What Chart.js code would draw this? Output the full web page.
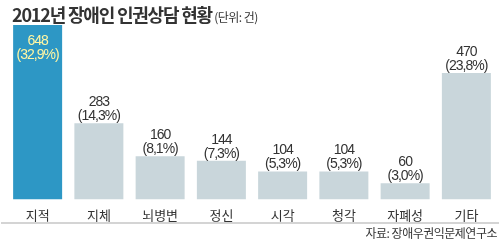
<!DOCTYPE html>
<html>
<head>
<meta charset="utf-8">
<script src="https://cdn.jsdelivr.net/npm/chart.js@4"></script>
<style>
  html, body { margin: 0; padding: 0; background: #fff; }
  #wrap { position: relative; width: 500px; height: 240px; overflow: hidden; }
  #title {
    position: absolute; left: 12px; top: 1px; white-space: nowrap;
    font-family: "Noto Sans CJK KR", sans-serif; color: #333;
  }
  #title b { font-size: 18px; letter-spacing: -1.2px; }
  #title span { font-size: 12px; letter-spacing: -0.5px; }
  #source {
    position: absolute; right: 3px; top: 224px; white-space: nowrap;
    font-family: "Noto Sans CJK KR", sans-serif; font-size: 12px; color: #333; letter-spacing: -0.5px;
  }
  #rule { position: absolute; left: 1px; right: 1px; top: 222px; height: 2px; background: #d4d4d4; }
</style>
</head>
<body>
<div id="wrap">
  <canvas id="chart" width="500" height="240"></canvas>
  <div id="title"><b>2012년 장애인 인권상담 현황</b><span> (단위: 건)</span></div>
  <div id="rule"></div>
  <div id="source">자료: 장애우권익문제연구소</div>
</div>
<script>
'use strict';

const categories = ['지적', '지체', '뇌병변', '정신', '시각', '청각', '자폐성', '기타'];
const counts = [648, 283, 160, 144, 104, 104, 60, 470];
const shares = ['32,9%', '14,3%', '8,1%', '7,3%', '5,3%', '5,3%', '3,0%', '23,8%'];

const BLUE = '#2d97c5';
const GREY = '#c9d6db';

// value labels: inside the first (highlighted) bar, above the rest
const valueLabels = {
  id: 'valueLabels',
  afterDatasetsDraw(chart) {
    const ctx = chart.ctx;
    const meta = chart.getDatasetMeta(0);
    ctx.save();
    ctx.font = '14px "Liberation Sans", Arial, sans-serif';
    ctx.letterSpacing = '-1px';
    ctx.textAlign = 'center';
    ctx.textBaseline = 'alphabetic';
    meta.data.forEach((bar, i) => {
      const inside = i === 0;
      ctx.fillStyle = inside ? '#fff6a3' : '#333';
      const top = bar.y;
      const y1 = inside ? top + 20 : top - 17;
      ctx.fillText(String(counts[i]), bar.x, y1);
      ctx.fillText('(' + shares[i] + ')', bar.x, y1 + 14);
    });
    ctx.restore();
  }
};

new Chart(document.getElementById('chart'), {
  type: 'bar',
  data: {
    labels: categories,
    datasets: [{
      data: counts,
      backgroundColor: counts.map((_, i) => i === 0 ? BLUE : GREY),
      borderWidth: 0,
      barPercentage: 0.8,
      categoryPercentage: 1
    }]
  },
  options: {
    responsive: false,
    animation: false,
    layout: { padding: { top: 25, left: 7, right: 3, bottom: 17 } },
    plugins: { legend: { display: false }, tooltip: { enabled: false } },
    scales: {
      x: {
        grid: { display: false },
        border: { display: false },
        ticks: {
          color: '#333',
          padding: 0,
          font: { family: '"Noto Sans CJK KR", sans-serif', size: 13 }
        }
      },
      y: { display: false, min: 0, max: 648 }
    }
  },
  plugins: [valueLabels]
});
</script>
</body>
</html>
